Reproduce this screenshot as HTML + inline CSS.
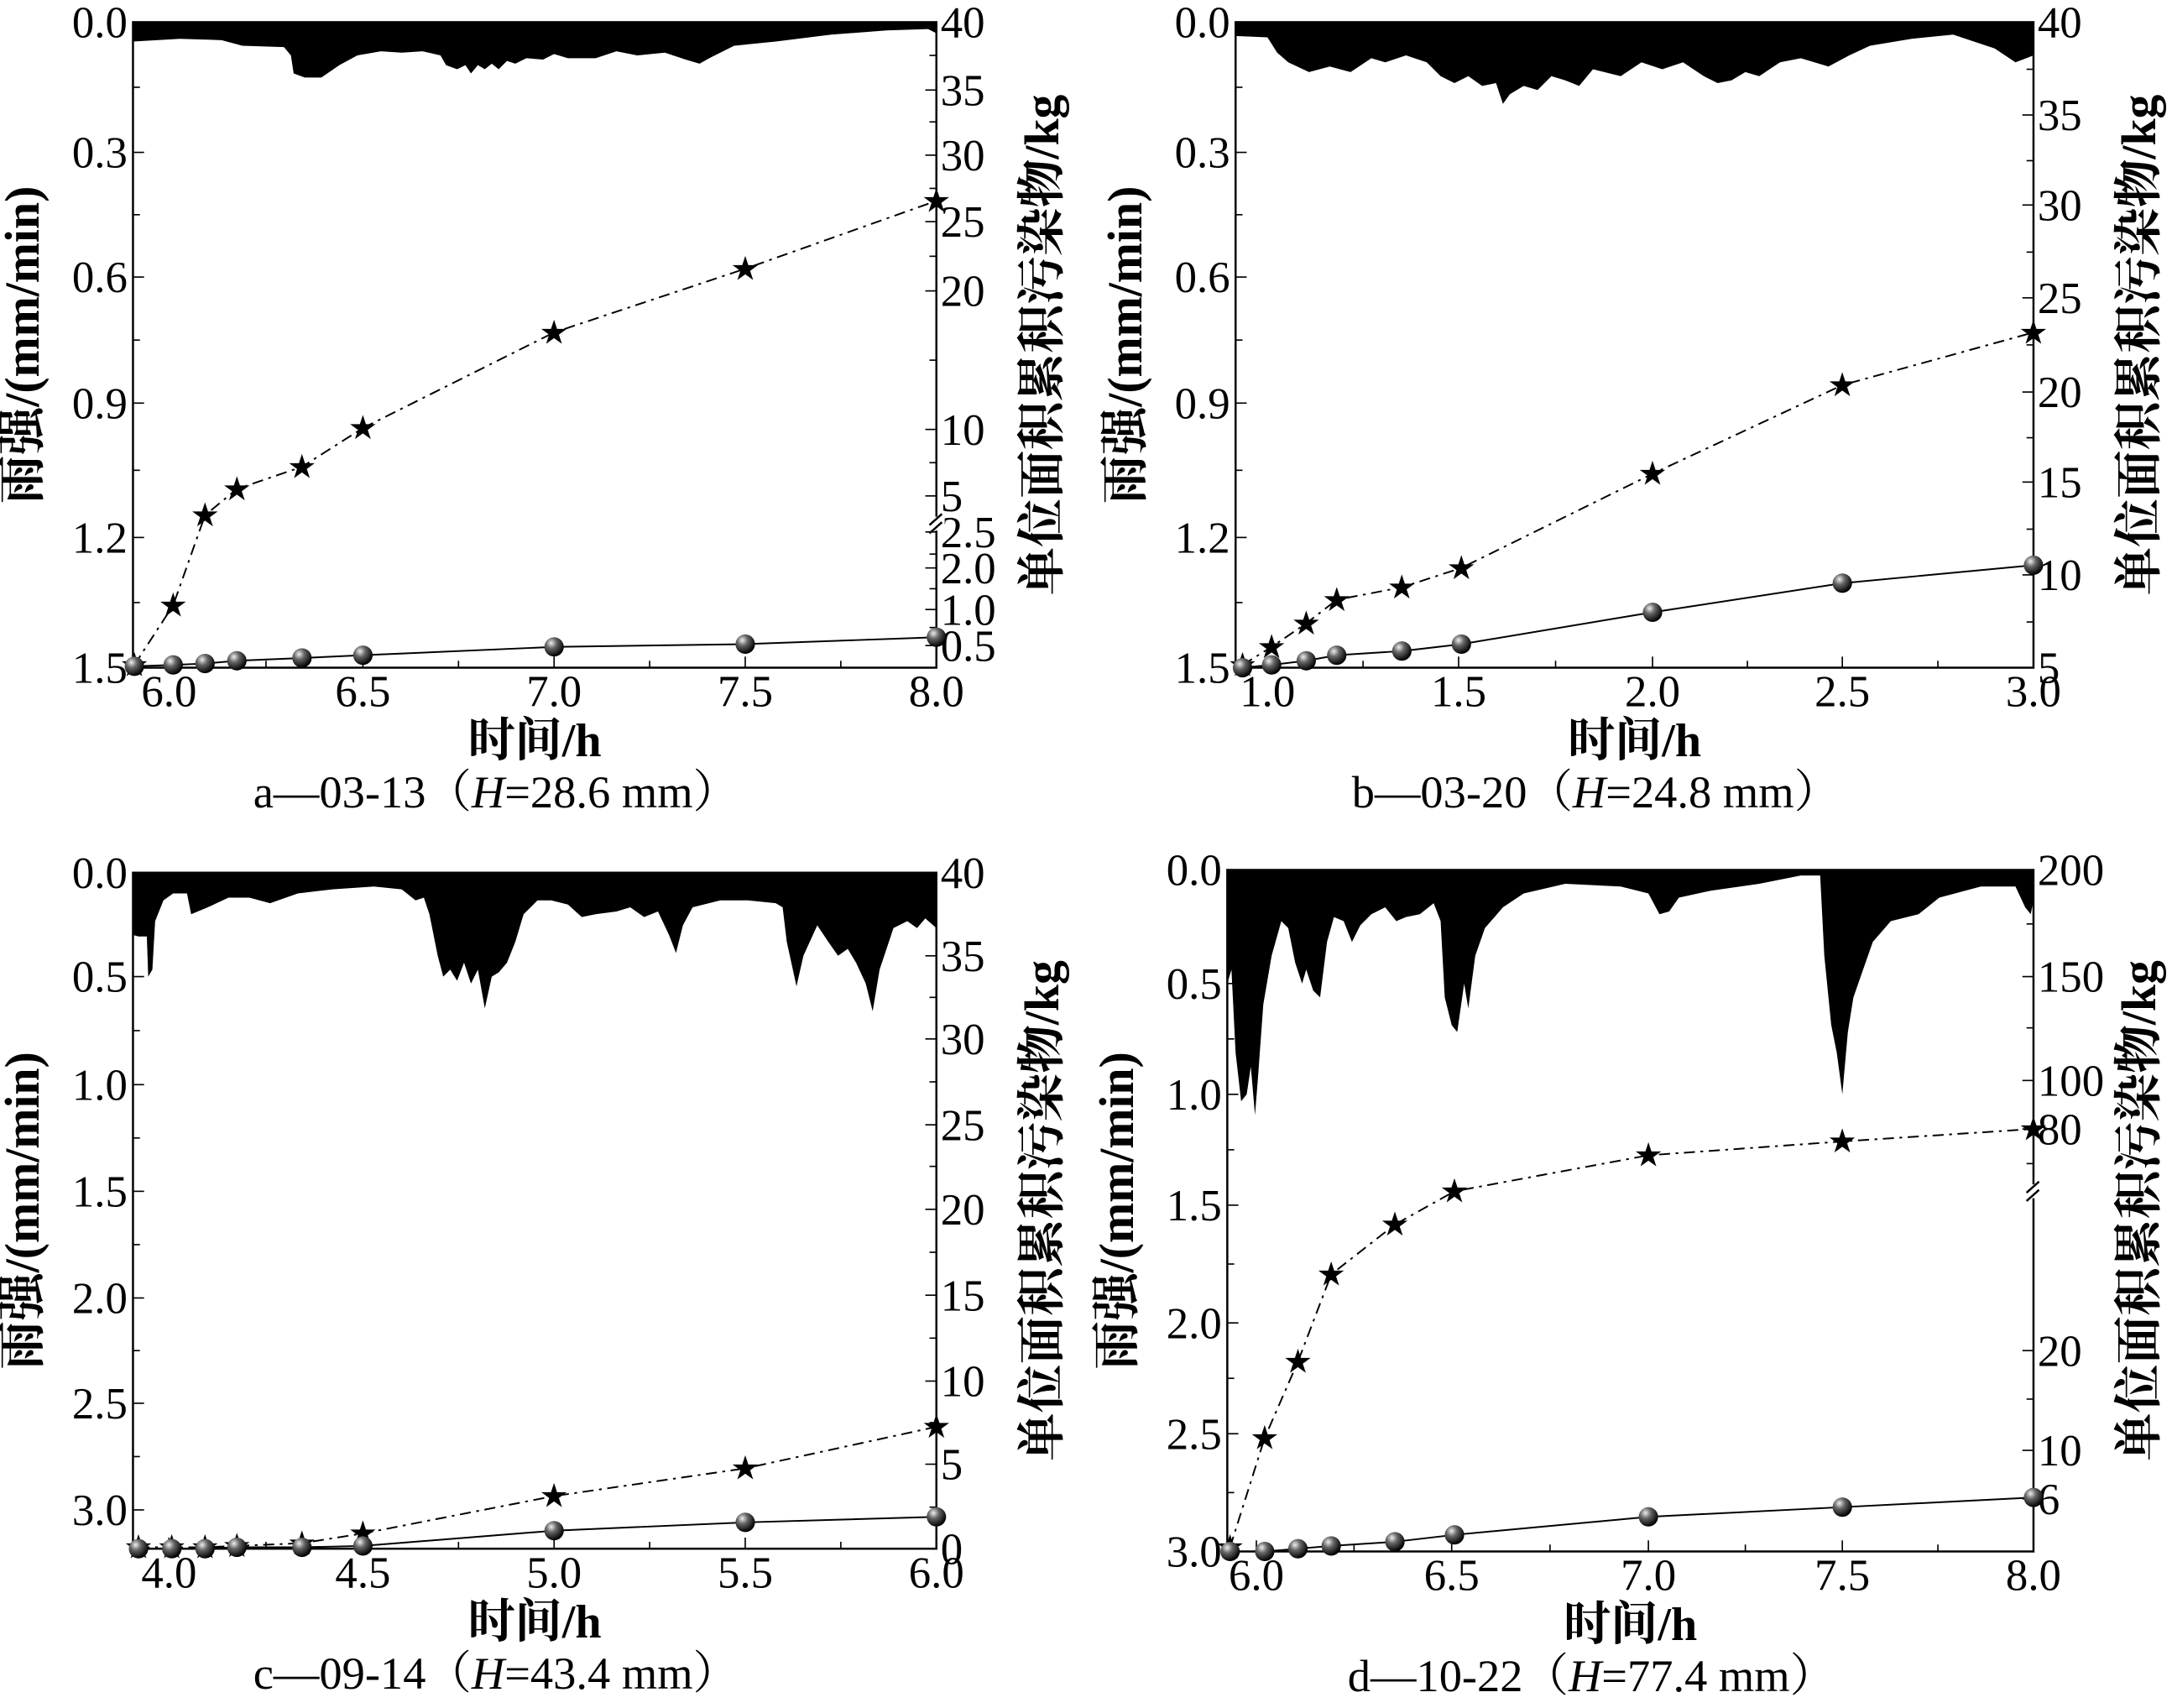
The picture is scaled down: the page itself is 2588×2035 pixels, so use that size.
<!DOCTYPE html>
<html><head><meta charset="utf-8">
<style>html,body{margin:0;padding:0;background:#fff}svg{display:block}</style></head>
<body>
<svg id="s" xmlns="http://www.w3.org/2000/svg" width="2588" height="2035" viewBox="0 0 1568 1233" preserveAspectRatio="none" font-family="'Liberation Serif','Noto Serif CJK SC',serif">
<defs><radialGradient id="g" cx="0.35" cy="0.3" r="0.7"><stop offset="0" stop-color="#eee"/><stop offset="0.4" stop-color="#666"/><stop offset="1" stop-color="#000"/></radialGradient></defs>
</svg>
<script>
const s=document.getElementById('s');let h='';
function t(x,y,str,o){o=o||{};h+=`<text x="${x}" y="${y}" font-size="${o.fs||32}" text-anchor="${o.a||'middle'}" ${o.tr?`transform="${o.tr}"`:''} ${o.w?'font-weight="bold"':''}>${str}</text>`;}
function panel(P){
 const {x0,x1,y0,y1}=P;
 let d=`M${x0},${y0} `+P.rain.map(p=>`L${p[0]},${p[1]}`).join(' ')+` L${x1},${y0} Z`;
 h+=`<path d="${d}" fill="#000"/>`;
 h+=`<rect x="${x0}" y="${y0}" width="${x1-x0}" height="${y1-y0}" fill="none" stroke="#000" stroke-width="1.5"/>`;
 P.ly.forEach((v,i)=>{h+=`<line x1="${x0}" x2="${x0+8}" y1="${v[1]}" y2="${v[1]}" stroke="#000"/>`;t(x0-4,v[1]+11,v[0],{a:'end'});
  if(i<P.ly.length-1){const m=(v[1]+P.ly[i+1][1])/2;h+=`<line x1="${x0}" x2="${x0+5}" y1="${m}" y2="${m}" stroke="#000"/>`;}});
 P.ry.forEach(v=>{h+=`<line x1="${x1}" x2="${x1-8}" y1="${v[1]}" y2="${v[1]}" stroke="#000"/>`;t(x1+3,v[1]+11,v[0],{a:'start'});});
 (P.rm||[]).forEach(y=>{h+=`<line x1="${x1}" x2="${x1-5}" y1="${y}" y2="${y}" stroke="#000"/>`;});
 P.xt.forEach((v,i)=>{h+=`<line x1="${v[1]}" x2="${v[1]}" y1="${y1}" y2="${y1-8}" stroke="#000"/>`;t(v[1],y1+28,v[0]);
  if(i<P.xt.length-1){const m=(v[1]+P.xt[i+1][1])/2;h+=`<line x1="${m}" x2="${m}" y1="${y1}" y2="${y1-5}" stroke="#000"/>`;}});
 if(P.brk){h+=`<rect x="${x1-4}" y="${P.brk-5}" width="10" height="10" fill="#fff"/><path d="M${x1-5},${P.brk+1} l9,-8 M${x1-5},${P.brk+7} l9,-8" stroke="#000" stroke-width="1.5"/>`;}
 const cy=(y0+y1)/2;
 t(0,0,'雨强/(mm/min)',{fs:35,w:1,tr:`translate(${x0-68},${cy}) rotate(-90)`});
 t(0,0,'单位面积累积污染物/kg',{fs:35,w:1,tr:`translate(${x1+88},${cy}) rotate(-90)`});
 t((x0+x1)/2,y1+64,'时间/h',{fs:34,w:1});
 h+=`<text x="${(x0+x1)/2-28}" y="${y1+101}" font-size="33" text-anchor="middle">${P.cap}</text>`;
 h+=`<polyline points="${P.st.map(p=>p.join(',')).join(' ')}" fill="none" stroke="#000" stroke-width="1.2" stroke-dasharray="8,4,2,4"/>`;
 h+=`<polyline points="${P.ci.map(p=>p.join(',')).join(' ')}" fill="none" stroke="#000" stroke-width="1.2"/>`;
 P.st.forEach(p=>{h+=`<text x="${p[0]}" y="${p[1]+8}" font-size="24" text-anchor="middle" font-family="DejaVu Sans,sans-serif">★</text>`;});
 P.ci.forEach(p=>{h+=`<circle cx="${p[0]}" cy="${p[1]}" r="7" fill="url(#g)"/>`;});
}
panel({x0:96,x1:676,y0:16,y1:482,
 ly:[['0.0',16],['0.3',110],['0.6',200],['0.9',291],['1.2',388],['1.5',482]],
 ry:[['40',16],['35',65],['30',112],['25',160],['20',210],['10',310],['5',358],['2.5',384],['2.0',410],['1.0',440],['0.5',466]],
 rm:[40,88,136,185,260,334,400,425,453],brk:378,
 xt:[['6.0',122],['6.5',262],['7.0',400],['7.5',538],['8.0',676]],
 cap:'a—03-13（<tspan font-style="italic">H</tspan>=28.6 mm）',
 st:[[97,480],[125,437],[148,372],[171,353],[218,337],[262,309],[400,240],[538,194],[676,145]],
 ci:[[97,481],[125,480],[148,479],[171,477],[218,475],[262,473],[400,467],[538,465],[676,460]],
 rain:[[96,30],[130,28],[160,29],[175,33],[205,34],[210,40],[212,53],[220,56],[232,56],[245,47],[258,40],[275,37],[290,38],[305,37],[318,40],[322,47],[330,50],[336,47],[340,53],[345,47],[350,50],[355,46],[360,50],[366,44],[372,46],[380,42],[392,43],[400,39],[410,42],[430,42],[445,37],[460,40],[480,38],[495,43],[505,46],[512,42],[530,33],[560,30],[600,25],[640,22],[670,21],[676,24]]});
panel({x0:892,x1:1468,y0:16,y1:482,
 ly:[['0.0',16],['0.3',110],['0.6',200],['0.9',291],['1.2',388],['1.5',482]],
 ry:[['40',16],['35',83],['30',148],['25',215],['20',283],['15',348],['10',415],['5',482]],
 rm:[50,116,182,249,316,382,449],
 xt:[['1.0',915],['1.5',1053],['2.0',1193],['2.5',1330],['3.0',1468]],
 cap:'b—03-20（<tspan font-style="italic">H</tspan>=24.8 mm）',
 st:[[897,480],[918,467],[943,450],[965,433],[1012,424],[1055,410],[1193,342],[1330,278],[1468,240]],
 ci:[[897,482],[918,480],[943,477],[965,473],[1012,470],[1055,465],[1193,442],[1330,421],[1468,408]],
 rain:[[892,26],[915,27],[922,38],[930,45],[945,52],[960,48],[975,52],[990,42],[1000,45],[1015,40],[1030,45],[1040,55],[1050,60],[1060,55],[1070,62],[1080,60],[1085,75],[1090,68],[1100,62],[1110,65],[1120,55],[1130,58],[1140,62],[1150,50],[1170,55],[1185,45],[1200,50],[1215,45],[1230,55],[1240,60],[1250,58],[1260,52],[1270,55],[1285,45],[1300,42],[1320,48],[1335,40],[1350,33],[1380,28],[1410,25],[1440,35],[1455,45],[1468,40]]});
panel({x0:96,x1:676,y0:630,y1:1118,
 ly:[['0.0',630],['0.5',705],['1.0',783],['1.5',860],['2.0',937],['2.5',1013],['3.0',1090]],
 ry:[['40',630],['35',690],['30',750],['25',812],['20',873],['15',935],['10',997],['5',1057],['0',1118]],
 rm:[660,720,781,842,904,966,1027,1088],
 xt:[['4.0',122],['4.5',262],['5.0',400],['5.5',538],['6.0',676]],
 cap:'c—09-14（<tspan font-style="italic">H</tspan>=43.4 mm）',
 st:[[100,1117],[124,1117],[148,1117],[171,1116],[218,1114],[262,1107],[400,1080],[538,1060],[676,1030]],
 ci:[[100,1118],[124,1118],[148,1118],[171,1117],[218,1117],[262,1116],[400,1105],[538,1099],[676,1095]],
 rain:[[96,675],[100,676],[106,676],[107,705],[110,700],[112,665],[118,650],[125,645],[135,645],[138,660],[150,655],[165,648],[180,648],[195,652],[215,645],[240,642],[270,640],[290,642],[300,650],[306,648],[310,660],[316,690],[320,705],[325,700],[330,708],[335,695],[340,710],[345,700],[350,728],[355,705],[360,702],[366,695],[372,680],[378,660],[388,650],[398,650],[410,653],[420,662],[430,660],[445,658],[455,655],[465,662],[475,658],[483,675],[488,688],[493,668],[500,655],[520,650],[540,650],[560,652],[565,655],[568,680],[575,712],[580,690],[590,668],[598,680],[605,690],[612,685],[618,695],[625,710],[630,730],[635,700],[645,670],[655,665],[662,670],[668,663],[676,670]]});
panel({x0:886,x1:1468,y0:628,y1:1120,
 ly:[['0.0',628],['0.5',710],['1.0',790],['1.5',870],['2.0',955],['2.5',1035],['3.0',1120]],
 ry:[['200',628],['150',705],['100',780],['80',815],['20',975],['10',1047],['6',1082]],
 rm:[667,742,840,1010],brk:860,
 xt:[['6.0',907],['6.5',1048],['7.0',1190],['7.5',1330],['8.0',1468]],
 cap:'d—10-22（<tspan font-style="italic">H</tspan>=77.4 mm）',
 st:[[888,1117],[913,1038],[937,983],[961,920],[1007,884],[1050,860],[1190,834],[1330,824],[1468,815]],
 ci:[[888,1120],[913,1120],[937,1118],[961,1116],[1007,1113],[1050,1108],[1190,1095],[1330,1088],[1468,1081]],
 rain:[[886,710],[889,700],[892,760],[896,795],[900,790],[903,770],[906,805],[908,780],[912,725],[918,690],[925,665],[930,670],[935,695],[940,710],[943,700],[948,715],[953,720],[958,680],[963,662],[970,665],[976,680],[982,668],[990,660],[1000,655],[1008,665],[1015,662],[1025,660],[1035,652],[1040,665],[1043,720],[1048,740],[1052,745],[1057,710],[1060,728],[1065,690],[1072,670],[1085,655],[1100,645],[1130,638],[1170,640],[1190,645],[1198,660],[1205,658],[1212,648],[1235,643],[1270,638],[1300,632],[1314,632],[1317,690],[1322,740],[1326,760],[1330,790],[1334,745],[1338,720],[1345,700],[1352,680],[1365,665],[1385,660],[1400,648],[1430,640],[1455,640],[1462,655],[1466,660],[1468,650]]});
s.insertAdjacentHTML('beforeend',h);
</script>
</body></html>
